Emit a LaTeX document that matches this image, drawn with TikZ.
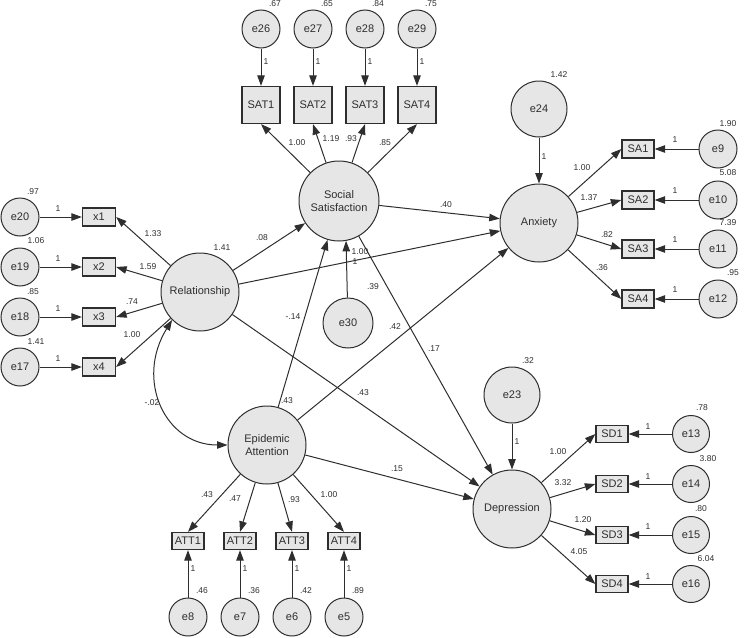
\documentclass[tikz,border=0pt]{standalone}
\usepackage{fontspec}
\setmainfont{Liberation Sans}
\definecolor{AMOSgrey}{HTML}{E6E6E6}
\definecolor{AMOSink}{HTML}{2E2E2E}
\usetikzlibrary{arrows.meta, positioning}

\begin{document}
\begin{tikzpicture}[
      x=1pt, y=-1pt,
      every node/.style={align=center, font=\fontsize{11}{13}\selectfont, text=AMOSink},
      latent/.style={circle, draw=AMOSink, fill=AMOSgrey, line width=1pt, minimum size=78pt, inner sep=0pt},
      errv/.style={circle, draw=AMOSink, fill=AMOSgrey, line width=1pt, minimum size=38pt, inner sep=0pt},
      bigerr/.style={errv, minimum size=56pt},
      ind/.style={rectangle, draw=AMOSink, fill=AMOSgrey, line width=1.3pt, minimum width=32pt, minimum height=18pt, inner sep=0.5pt},
      satbox/.style={ind, minimum width=38pt, minimum height=37pt},
      est/.style={font=\fontsize{8.5}{9}\selectfont, inner sep=0pt},
      arr/.style={-{Triangle[length=10.5pt, width=7.5pt]}, line width=1pt, AMOSink},
      cov/.style={{Triangle[length=10.5pt, width=7.5pt]}-{Triangle[length=10.5pt, width=7.5pt]}, line width=1pt, AMOSink}
   ]
      \useasboundingbox (0,0) rectangle (744,637);

      \node[latent, minimum size=80pt] (soc) at (339,201) {Social\\Satisfaction};
      \node[latent] (rel) at (200,292) {Relationship};
      \node[latent] (anx) at (539,223) {Anxiety};
      \node[latent] (epi) at (267,445) {Epidemic\\Attention};
      \node[latent] (dep) at (512,509) {Depression};

      \node[errv] (e26) at (261,29) {e26};
      \node[errv] (e27) at (313,29) {e27};
      \node[errv] (e28) at (365,29) {e28};
      \node[errv] (e29) at (417,29) {e29};
      \node[satbox] (sat1) at (261,105) {SAT1};
      \node[satbox] (sat2) at (313,105) {SAT2};
      \node[satbox] (sat3) at (365,105) {SAT3};
      \node[satbox] (sat4) at (417,105) {SAT4};

      \node[errv] (e20) at (20,217) {e20};
      \node[errv] (e19) at (20,267) {e19};
      \node[errv] (e18) at (20,317) {e18};
      \node[errv] (e17) at (20,367) {e17};
      \node[ind, minimum width=33pt] (x1) at (99,217) {x1};
      \node[ind, minimum width=33pt] (x2) at (99,267) {x2};
      \node[ind, minimum width=33pt] (x3) at (99,317) {x3};
      \node[ind, minimum width=33pt] (x4) at (99,367) {x4};

      \node[bigerr] (e24) at (539,109) {e24};
      \node[ind] (sa1) at (638,149) {SA1};
      \node[ind] (sa2) at (638,200) {SA2};
      \node[ind] (sa3) at (638,249) {SA3};
      \node[ind] (sa4) at (638,299) {SA4};
      \node[errv] (e9) at (718,149) {e9};
      \node[errv] (e10) at (718,200) {e10};
      \node[errv] (e11) at (718,249) {e11};
      \node[errv] (e12) at (718,299) {e12};

      \node[bigerr] (e23) at (512,395) {e23};
      \node[ind, minimum height=17pt] (sd1) at (612,434) {SD1};
      \node[ind, minimum height=17pt] (sd2) at (612,484) {SD2};
      \node[ind, minimum height=17pt] (sd3) at (612,535) {SD3};
      \node[ind, minimum height=17pt] (sd4) at (612,584) {SD4};
      \node[errv, minimum size=37pt] (e13) at (691,434) {e13};
      \node[errv, minimum size=37pt] (e14) at (691,484) {e14};
      \node[errv, minimum size=37pt] (e15) at (691,535) {e15};
      \node[errv, minimum size=37pt] (e16) at (691,584) {e16};

      \node[ind, minimum height=17pt] (att1) at (188,541) {ATT1};
      \node[ind, minimum height=17pt] (att2) at (240,541) {ATT2};
      \node[ind, minimum height=17pt] (att3) at (292,541) {ATT3};
      \node[ind, minimum height=17pt] (att4) at (344,541) {ATT4};
      \node[errv] (e8) at (188,617) {e8};
      \node[errv] (e7) at (240,617) {e7};
      \node[errv] (e6) at (292,617) {e6};
      \node[errv] (e5) at (344,617) {e5};

      \node[bigerr, minimum size=50pt] (e30) at (348,323) {e30};

      \draw[arr] (e26) -- (sat1);
      \draw[arr] (e27) -- (sat2);
      \draw[arr] (e28) -- (sat3);
      \draw[arr] (e29) -- (sat4);
      \draw[arr] (soc) -- (sat1.south);
      \draw[arr] (soc) -- (sat2.south);
      \draw[arr] (soc) -- (sat3.south);
      \draw[arr] (soc) -- (sat4.south);

      \draw[arr] (e20) -- (x1);
      \draw[arr] (e19) -- (x2);
      \draw[arr] (e18) -- (x3);
      \draw[arr] (e17) -- (x4);
      \draw[arr] (rel) -- (x1.east);
      \draw[arr] (rel) -- (x2.east);
      \draw[arr] (rel) -- (x3.east);
      \draw[arr] (rel) -- (x4.east);

      \draw[arr] (e24) -- (anx);
      \draw[arr] (anx) -- (sa1.west);
      \draw[arr] (anx) -- (sa2.west);
      \draw[arr] (anx) -- (sa3.west);
      \draw[arr] (anx) -- (sa4.west);
      \draw[arr] (e9) -- (sa1);
      \draw[arr] (e10) -- (sa2);
      \draw[arr] (e11) -- (sa3);
      \draw[arr] (e12) -- (sa4);

      \draw[arr] (e23) -- (dep);
      \draw[arr] (dep) -- (sd1.west);
      \draw[arr] (dep) -- (sd2.west);
      \draw[arr] (dep) -- (sd3.west);
      \draw[arr] (dep) -- (sd4.west);
      \draw[arr] (e13) -- (sd1);
      \draw[arr] (e14) -- (sd2);
      \draw[arr] (e15) -- (sd3);
      \draw[arr] (e16) -- (sd4);

      \draw[arr] (epi) -- (att1.north);
      \draw[arr] (epi) -- (att2.north);
      \draw[arr] (epi) -- (att3.north);
      \draw[arr] (epi) -- (att4.north);
      \draw[arr] (e8) -- (att1);
      \draw[arr] (e7) -- (att2);
      \draw[arr] (e6) -- (att3);
      \draw[arr] (e5) -- (att4);

      \draw[arr] (e30) -- (soc.280);
      \draw[arr] (rel) -- (soc);
      \draw[arr] (rel) -- (anx);
      \draw[arr] (rel) -- (dep);
      \draw[arr] (soc) -- (anx);
      \draw[arr] (soc) -- (dep);
      \draw[arr] (epi) -- (soc);
      \draw[arr] (epi) -- (anx);
      \draw[arr] (epi) -- (dep);
      \draw[cov] (rel.225) .. controls (135,380) and (165,445) .. (epi.west);

      \node[est] (v26) at (275,4) {.67};
      \node[est] (v27) at (327,4) {.65};
      \node[est] (v28) at (378,4) {.84};
      \node[est] (v29) at (431,4) {.75};
      \node[est] (w26) at (266,62) {1};
      \node[est] (w27) at (318,62) {1};
      \node[est] (w28) at (370,62) {1};
      \node[est] (w29) at (422,62) {1};
      \node[est] (lsat1) at (297,143) {1.00};
      \node[est] (lsat2) at (331,139) {1.19};
      \node[est] (lsat3) at (351,139) {.93};
      \node[est] (lsat4) at (385,143) {.85};

      \node[est] (v20) at (33,192) {.97};
      \node[est] (v19) at (36,241) {1.06};
      \node[est] (v18) at (33,292) {.85};
      \node[est] (v17) at (36,342) {1.41};
      \node[est] (w20) at (58,209) {1};
      \node[est] (w19) at (58,259) {1};
      \node[est] (w18) at (58,309) {1};
      \node[est] (w17) at (58,359) {1};
      \node[est] (lx1) at (153,234) {1.33};
      \node[est] (lx2) at (148,267) {1.59};
      \node[est] (lx3) at (132,302) {.74};
      \node[est] (lx4) at (132,335) {1.00};

      \node[est] (v24) at (559,75) {1.42};
      \node[est] (w24) at (544,157) {1};
      \node[est] (w9) at (675,140) {1};
      \node[est] (w10) at (675,191) {1};
      \node[est] (w11) at (675,240) {1};
      \node[est] (w12) at (675,290) {1};
      \node[est] (v9) at (728,124) {1.90};
      \node[est] (v10) at (728,173) {5.08};
      \node[est] (v11) at (728,223) {7.39};
      \node[est] (v12) at (733,273) {.95};
      \node[est] (lsa1) at (582,168) {1.00};
      \node[est] (lsa2) at (589,198) {1.37};
      \node[est] (lsa3) at (607,235) {.82};
      \node[est] (lsa4) at (602,268) {.36};

      \node[est] (v23) at (528,361) {.32};
      \node[est] (w23) at (517,442) {1};
      \node[est] (w13) at (648,427) {1};
      \node[est] (w14) at (648,477) {1};
      \node[est] (w15) at (648,527) {1};
      \node[est] (w16) at (648,577) {1};
      \node[est] (v13) at (702,408) {.78};
      \node[est] (v14) at (708,459) {3.80};
      \node[est] (v15) at (701,509) {.80};
      \node[est] (v16) at (706,559) {6.04};
      \node[est] (lsd1) at (558,452) {1.00};
      \node[est] (lsd2) at (563,483) {3.32};
      \node[est] (lsd3) at (583,520) {1.20};
      \node[est] (lsd4) at (579,552) {4.05};

      \node[est] (v8) at (202,591) {.46};
      \node[est] (v7) at (254,591) {.36};
      \node[est] (v6) at (306,591) {.42};
      \node[est] (v5) at (358,591) {.89};
      \node[est] (w8) at (193,569) {1};
      \node[est] (w7) at (245,569) {1};
      \node[est] (w6) at (297,569) {1};
      \node[est] (w5) at (349,569) {1};
      \node[est] (latt1) at (207,495) {.43};
      \node[est] (latt2) at (235,499) {.47};
      \node[est] (latt3) at (294,500) {.93};
      \node[est] (latt4) at (329,495) {1.00};

      \node[est] (relsoc) at (262,238) {.08};
      \node[est] (vrel) at (222,248) {1.41};
      \node[est] (socanx) at (446,205) {.40};
      \node[est] (episoc) at (293,317) {-.14};
      \node[est] (v30) at (373,287) {.39};
      \node[est] (soc100) at (360,252) {1.00};
      \node[est] (w30) at (355,262) {1};
      \node[est] (epianx) at (395,327) {.42};
      \node[est] (socdep) at (434,349) {.17};
      \node[est] (vepi) at (287,401) {.43};
      \node[est] (reldep) at (363,393) {.43};
      \node[est] (relepi) at (152,403) {-.02};
      \node[est] (epidep) at (397,469) {.15};
   \end{tikzpicture}
\end{document}
